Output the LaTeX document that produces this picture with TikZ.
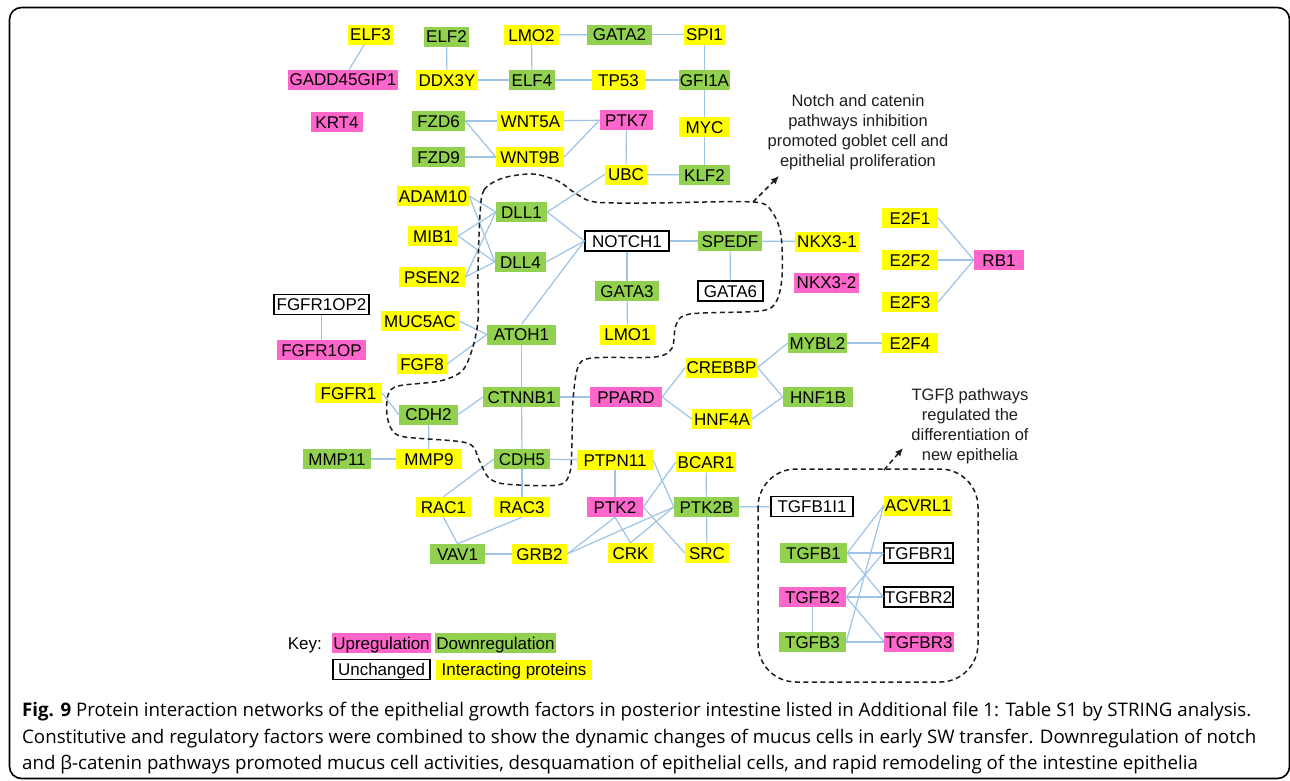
\documentclass[tikz,border=0pt]{standalone}
\usepackage{graphicx}
\usepackage{fontspec}
\setmainfont{Liberation Sans}
\newfontfamily\capfont{Open Sans}
\usetikzlibrary{arrows.meta}
\definecolor{upc}{RGB}{255,102,204}
\definecolor{downc}{RGB}{146,208,80}
\definecolor{intc}{RGB}{255,255,0}
\definecolor{edgec}{RGB}{157,195,230}
\definecolor{inkc}{RGB}{30,30,30}
\newlength\lineTwoW
\newcommand\capA{\textbf{Fig. 9} Protein interaction networks of the epithelial growth factors in posterior intestine listed in Additional file 1: Table S1 by STRING analysis.}
\newcommand\capB{Constitutive and regulatory factors were combined to show the dynamic changes of mucus cells in early SW transfer. Downregulation of notch}
\newcommand\capC{and β-catenin pathways promoted mucus cell activities, desquamation of epithelial cells, and rapid remodeling of the intestine epithelia}
\begin{document}
\settowidth{\lineTwoW}{\capfont\fontsize{18}{22}\selectfont\capB}
\begin{tikzpicture}[x=1pt,y=-1pt,
 prot/.style={rectangle, inner xsep=1pt, inner ysep=0pt, minimum height=20pt, text height=12.2pt, text depth=0pt, font=\fontsize{17}{20}\selectfont, text=black},
 up/.style={prot, fill=upc},
 down/.style={prot, fill=downc},
 inter/.style={prot, fill=intc},
 unch/.style={prot, fill=white, draw=black, line width=1.2pt},
 edge/.style={draw=edgec, line width=1.2pt},
 region/.style={draw=inkc, line width=1.5pt, dash pattern=on 5pt off 3.5pt},
 pointer/.style={region, -{Latex[length=8pt,width=7pt]}},
 note/.style={align=center, font=\fontsize{16.5}{20}\selectfont, text=inkc, inner sep=0pt},
 capline/.style={anchor=base west, inner sep=0pt, font=\capfont\fontsize{18}{22}\selectfont, text=black}
]
\pgfmathsetmacro\capscale{1234/\lineTwoW}
\useasboundingbox (0,0) rectangle (1290,780);
\draw[line width=1.6pt, rounded corners=12pt] (9.5,7.5) rectangle (1289.5,778.5);

% ---- nodes: top block
\node[inter, minimum width=45] (elf3) at (370.5,34.5) {ELF3};
\node[down,  minimum width=45] (elf2) at (446.5,36.5) {ELF2};
\node[inter, minimum width=55] (lmo2) at (531.5,35) {LMO2};
\node[down,  minimum width=65] (gata2) at (619.5,34.5) {GATA2};
\node[inter, minimum width=41] (spi1) at (704.5,34.5) {SPI1};
\node[up,    minimum width=110] (gadd) at (343,79.5) {GADD45GIP1};
\node[inter, minimum width=62] (ddx3y) at (447,80) {DDX3Y};
\node[down,  minimum width=46] (elf4) at (532,80) {ELF4};
\node[inter, minimum width=53] (tp53) at (618.5,80) {TP53};
\node[down,  minimum width=51] (gfi1a) at (704.5,80) {GFI1A};
\node[up,    minimum width=52] (krt4) at (337,122) {KRT4};
\node[down,  minimum width=53] (fzd6) at (438.5,121) {FZD6};
\node[inter, minimum width=67] (wnt5a) at (530.5,121) {WNT5A};
\node[up,    minimum width=53] (ptk7) at (626.5,120) {PTK7};
\node[inter, minimum width=51] (myc) at (704.5,127) {MYC};
\node[down,  minimum width=53] (fzd9) at (438.5,157) {FZD9};
\node[inter, minimum width=68] (wnt9b) at (530,157) {WNT9B};
\node[inter, minimum width=42] (ubc) at (626,174.5) {UBC};
\node[down,  minimum width=51] (klf2) at (704.5,175) {KLF2};

% ---- notch block
\node[inter, minimum width=72] (adam10) at (433,196) {ADAM10};
\node[down,  minimum width=51] (dll1) at (521.5,212) {DLL1};
\node[inter, minimum width=50] (mib1) at (433,236) {MIB1};
\node[unch,  minimum width=84] (notch1) at (627,241) {NOTCH1};
\node[down,  minimum width=64] (spedf) at (730,241) {SPEDF};
\node[inter, minimum width=64] (nkx31) at (827,241.5) {NKX3-1};
\node[down,  minimum width=51] (dll4) at (520.5,262) {DLL4};
\node[inter, minimum width=66] (psen2) at (432,277) {PSEN2};
\node[up,    minimum width=65] (nkx32) at (826.5,282.5) {NKX3-2};
\node[down,  minimum width=64] (gata3) at (627,291) {GATA3};
\node[unch,  minimum width=65] (gata6) at (730.5,291) {GATA6};
\node[unch,  minimum width=95] (fgfr1op2) at (321.5,304.5) {FGFR1OP2};
\node[inter, minimum width=78] (muc5ac) at (420,321) {MUC5AC};
\node[down,  minimum width=69] (atoh1) at (521.5,334.5) {ATOH1};
\node[inter, minimum width=55] (lmo1) at (627.5,334.5) {LMO1};
\node[up,    minimum width=89] (fgfr1op) at (321.5,350) {FGFR1OP};
\node[inter, minimum width=50] (fgf8) at (422,364) {FGF8};

% ---- E2F block
\node[inter, minimum width=56] (e2f1) at (910,218) {E2F1};
\node[inter, minimum width=56] (e2f2) at (910,260) {E2F2};
\node[inter, minimum width=56] (e2f3) at (910,302) {E2F3};
\node[up,    minimum width=50] (rb1) at (999,260) {RB1};
\node[down,  minimum width=59] (mybl2) at (817.5,343) {MYBL2};
\node[inter, minimum width=56] (e2f4) at (910,343) {E2F4};

% ---- catenin block
\node[inter, minimum width=71] (crebbp) at (721.5,367.5) {CREBBP};
\node[inter, minimum width=67] (fgfr1) at (348.5,393) {FGFR1};
\node[down,  minimum width=77] (ctnnb1) at (521.5,397) {CTNNB1};
\node[up,    minimum width=72] (ppard) at (626,397) {PPARD};
\node[down,  minimum width=70] (hnf1b) at (818,397) {HNF1B};
\node[down,  minimum width=59] (cdh2) at (428.5,414.5) {CDH2};
\node[inter, minimum width=60] (hnf4a) at (722,419) {HNF4A};
\node[down,  minimum width=68] (mmp11) at (337,459) {MMP11};
\node[inter, minimum width=66] (mmp9) at (429,459) {MMP9};
\node[down,  minimum width=56] (cdh5) at (522,459) {CDH5};
\node[inter, minimum width=76] (ptpn11) at (615,460) {PTPN11};
\node[inter, minimum width=60] (bcar1) at (706,462) {BCAR1};
\node[inter, minimum width=55] (rac1) at (443.5,507) {RAC1};
\node[inter, minimum width=56] (rac3) at (522,507) {RAC3};
\node[up,    minimum width=56] (ptk2) at (615,507) {PTK2};
\node[down,  minimum width=65] (ptk2b) at (706.5,507) {PTK2B};
\node[down,  minimum width=55] (vav1) at (457.5,554) {VAV1};
\node[inter, minimum width=55] (grb2) at (539.5,554) {GRB2};
\node[inter, minimum width=45] (crk) at (630.5,553) {CRK};
\node[inter, minimum width=44] (src) at (707,553) {SRC};

% ---- TGF block
\node[unch,  minimum width=82] (tgfb1i1) at (812,506.5) {TGFB1I1};
\node[inter, minimum width=68] (acvrl1) at (918,505.5) {ACVRL1};
\node[down,  minimum width=67] (tgfb1) at (813.5,553) {TGFB1};
\node[unch,  minimum width=67] (tgfbr1) at (918.5,553) {TGFBR1};
\node[up,    minimum width=67] (tgfb2) at (812.5,597) {TGFB2};
\node[unch,  minimum width=67] (tgfbr2) at (918.5,597) {TGFBR2};
\node[down,  minimum width=67] (tgfb3) at (812.5,642) {TGFB3};
\node[up,    minimum width=66] (tgfbr3) at (919,642) {TGFBR3};

% ---- edges
\draw[edge] (elf3) -- (gadd);
\draw[edge] (elf2) -- (ddx3y);
\draw[edge] (lmo2) -- (gata2);
\draw[edge] (gata2) -- (spi1);
\draw[edge] (lmo2) -- (elf4);
\draw[edge] (ddx3y) -- (elf4);
\draw[edge] (elf4) -- (tp53);
\draw[edge] (tp53) -- (gfi1a);
\draw[edge] (spi1) -- (gfi1a);
\draw[edge] (gfi1a) -- (myc);
\draw[edge] (myc) -- (klf2);
\draw[edge] (fzd6) -- (wnt5a);
\draw[edge] (fzd6.east) -- (wnt9b.west);
\draw[edge] (fzd9) -- (wnt9b);
\draw[edge] (wnt5a) -- (ptk7);
\draw[edge] (wnt9b.east) -- (ptk7.west);
\draw[edge] (ptk7) -- (ubc);
\draw[edge] (ubc) -- (klf2);
\draw[edge] (dll1.east) -- (ubc.west);
\draw[edge] (adam10.east) -- (dll1.west);
\draw[edge] (adam10.east) -- (dll4.west);
\draw[edge] (mib1.east) -- (dll1.west);
\draw[edge] (mib1.east) -- (dll4.west);
\draw[edge] (psen2.east) -- (dll1.west);
\draw[edge] (psen2.east) -- (dll4.west);
\draw[edge] (dll1.east) -- (notch1.west);
\draw[edge] (dll4.east) -- (notch1.west);
\draw[edge] (atoh1.north) -- (notch1.west);
\draw[edge] (notch1) -- (spedf);
\draw[edge] (notch1) -- (gata3);
\draw[edge] (gata3) -- (lmo1);
\draw[edge] (spedf) -- (gata6);
\draw[edge] (spedf) -- (nkx31);
\draw[edge] (muc5ac.east) -- (atoh1.west);
\draw[edge] (fgf8.east) -- (atoh1.west);
\draw[edge] (fgfr1op2) -- (fgfr1op);
\draw[edge] (atoh1) -- (ctnnb1);
\draw[edge] (ctnnb1) -- (cdh5);
\draw[edge] (cdh5) -- (rac3);
\draw[edge] (ctnnb1.west) -- (cdh2.east);
\draw[edge] (fgfr1.east) -- (cdh2.west);
\draw[edge] (cdh2) -- (mmp9);
\draw[edge] (mmp11) -- (mmp9);
\draw[edge] (ctnnb1) -- (ppard);
\draw[edge] (ppard.east) -- (crebbp.west);
\draw[edge] (ppard.east) -- (hnf4a.west);
\draw[edge] (crebbp.east) -- (mybl2.west);
\draw[edge] (crebbp.east) -- (hnf1b.west);
\draw[edge] (hnf4a.east) -- (hnf1b.west);
\draw[edge] (mybl2) -- (e2f4);
\draw[edge] (e2f1.east) -- (rb1.west);
\draw[edge] (e2f2) -- (rb1);
\draw[edge] (e2f3.east) -- (rb1.west);
\draw[edge] (cdh5) -- (ptpn11);
\draw[edge] (cdh5.west) -- (rac1.north);
\draw[edge] (rac1.south) -- (vav1.north);
\draw[edge] (rac3.south) -- (vav1.north);
\draw[edge] (vav1) -- (grb2);
\draw[edge] (ptpn11) -- (ptk2);
\draw[edge] (ptpn11.east) -- (ptk2b.west);
\draw[edge] (bcar1.west) -- (ptk2.east);
\draw[edge] (bcar1) -- (ptk2b);
\draw[edge] (ptk2.south) -- (crk.north);
\draw[edge] (ptk2.east) -- (src.west);
\draw[edge] (ptk2.south) -- (grb2.east);
\draw[edge] (ptk2b.west) -- (grb2.east);
\draw[edge] (ptk2b.west) -- (crk.north);
\draw[edge] (ptk2b) -- (src);
\draw[edge] (ptk2b) -- (tgfb1i1);
\draw[edge] (tgfb1.east) -- (acvrl1.west);
\draw[edge] (tgfb1) -- (tgfbr1);
\draw[edge] (tgfb1.east) -- (tgfbr2.west);
\draw[edge] (tgfb2.east) -- (tgfbr1.west);
\draw[edge] (tgfb2) -- (tgfbr2);
\draw[edge] (tgfb2.east) -- (tgfbr3.west);
\draw[edge] (tgfb2) -- (tgfb3);
\draw[edge] (tgfb3.east) -- (acvrl1.west);
\draw[edge] (tgfb3) -- (tgfbr3);

% ---- dashed regions and notes
\draw[region] plot[smooth cycle, tension=0.5] coordinates {
 (480,215) (484,190) (503,178) (533,174) (558,181) (575,193) (595,202) (650,203)
 (753,202) (772,212) (781,235) (782,277) (776,302) (760,311) (690,314) (676,325)
 (672,348) (655,357) (592,358) (578,367) (573,400) (572,440) (570,472) (558,485)
 (505,484) (488,477) (479,460) (467,443) (405,437) (392,430) (387,415) (388,395)
 (398,386) (440,381) (462,371) (472,350) (478,320) (478,270)};
\node[note] (notchnote) at (858,132.5) {Notch and catenin\\pathways inhibition\\promoted goblet cell and\\epithelial proliferation};
\coordinate (notchfrom) at (753,202);
\coordinate (notchto) at (779,176);
\draw[pointer] (notchfrom) -- (notchto);

\draw[region, rounded corners=38pt] (758,469) rectangle (978,682);
\node[note] (tgfnote) at (970,426) {TGFβ pathways\\regulated the\\differentiation of\\new epithelia};
\coordinate (tgffrom) at (884,470);
\coordinate (tgfto) at (903,448);
\draw[pointer] (tgffrom) -- (tgfto);

% ---- key
\node[prot, anchor=east, inner xsep=0pt] (keylbl) at (322,643) {Key:};
\node[up,    minimum width=95] (keyup) at (381.5,643) {Upregulation};
\node[down,  minimum width=119] (keydown) at (495.5,643) {Downregulation};
\node[unch,  minimum width=97] (keyun) at (381.5,669.5) {Unchanged};
\node[inter, minimum width=156] (keyint) at (514,669.5) {Interacting proteins};

% ---- caption
\node[capline] (cap1) at (22,716) {\scalebox{\capscale}{\capA}};
\node[capline] (cap2) at (22,743) {\scalebox{\capscale}{\capB}};
\node[capline] (cap3) at (22,769) {\scalebox{\capscale}{\capC}};
\end{tikzpicture}
\end{document}
